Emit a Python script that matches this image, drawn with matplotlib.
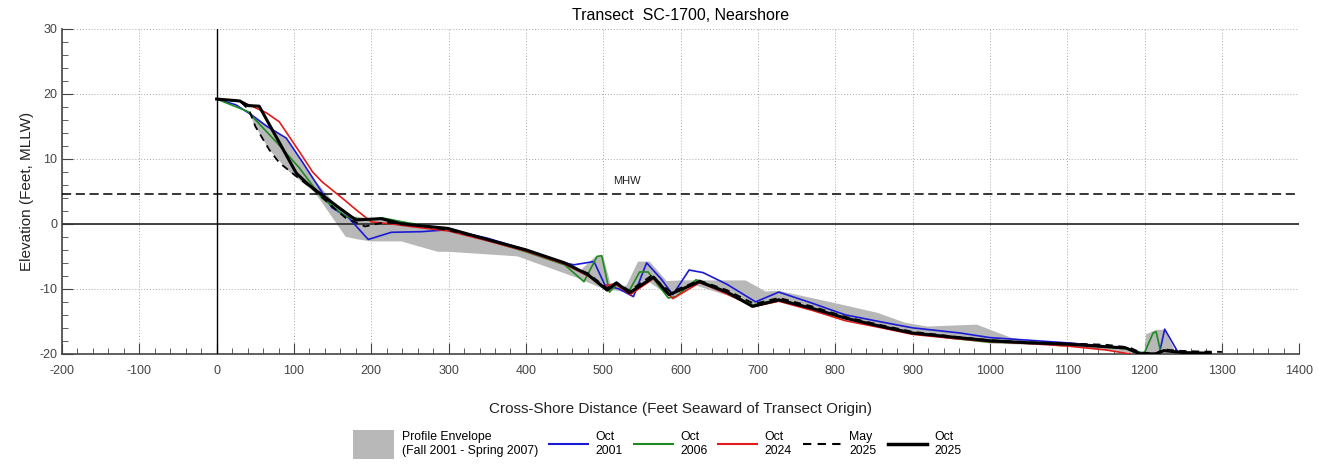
import matplotlib
matplotlib.use("Agg")
import matplotlib.pyplot as plt
from matplotlib.patches import Patch, Rectangle
from matplotlib.lines import Line2D
from matplotlib.legend_handler import HandlerPatch
from matplotlib.ticker import MultipleLocator

plt.rcParams['font.family'] = ['Liberation Sans', 'DejaVu Sans']
plt.rcParams['axes.unicode_minus'] = False

title = "Transect  SC-1700, Nearshore"
mhw = 4.6

# profile envelope (Fall 2001 - Spring 2007)
env_up_x = [0, 40, 75, 90, 100, 125, 150, 175, 200, 225, 250, 300, 350, 400, 450, 470, 490, 500,
            510, 530, 545, 560, 582, 600, 684, 710, 727, 800, 855, 890, 919, 983, 1027, 1091,
            1155, 1189, 1194, 1200, 1202, 1215, 1226, 1240, 1250]
env_up_y = [19.2, 17.5, 14.2, 13.2, 11.5, 7.0, 3.5, 1.2, 0.8, 0.8, 0.2, -0.8, -2.3, -4.0, -6.0, -7.2,
            -5.0, -5.0, -9.5, -9.5, -5.8, -5.8, -8.8, -8.7, -8.7, -10.4, -10.3, -12.2, -13.7, -15.2,
            -15.8, -15.5, -17.5, -18.9, -18.9, -19.7, -20.0, -20.0, -17.0, -16.3, -16.3, -19.7, -20.0]
env_lo_x = [0, 40, 50, 68, 94, 125, 132, 167, 183, 200, 239, 286, 300, 389, 466, 500, 530, 560,
            590, 620, 660, 695, 727, 800, 900, 1000, 1100, 1180, 1194, 1250]
env_lo_y = [19.2, 17.5, 15.0, 11.4, 8.0, 5.0, 4.0, -2.0, -2.4, -2.7, -2.7, -4.3, -4.3, -5.0, -8.3,
            -10.0, -10.5, -9.0, -11.5, -9.5, -11.0, -12.8, -12.0, -14.3, -16.9, -18.4, -18.8,
            -19.8, -20.0, -20.0]

oct2001_x = [0, 25, 42, 65, 90, 111, 130, 149, 171, 196, 226, 265, 300, 350, 400, 450, 462, 488,
             502, 520, 539, 556, 575, 590, 611, 629, 660, 697, 727, 770, 813, 860, 900, 962, 1000,
             1050, 1099, 1150, 1176, 1200, 1219, 1226, 1243, 1255]
oct2001_y = [19.2, 18.3, 17.0, 15.0, 13.2, 9.5, 6.0, 2.5, 0.9, -2.4, -1.3, -1.2, -0.9, -2.2, -4.0,
             -6.0, -6.3, -5.8, -9.4, -10.0, -11.2, -6.0, -8.5, -10.9, -7.1, -7.5, -9.3, -12.0,
             -10.5, -12.2, -14.0, -15.1, -16.0, -16.8, -17.5, -17.9, -18.3, -18.8, -19.1, -20.0,
             -20.0, -16.2, -19.7, -19.9]

oct2006_x = [0, 40, 77, 107, 136, 167, 193, 215, 240, 300, 350, 400, 450, 475, 492, 498, 508, 517,
             534, 547, 558, 584, 594, 620, 660, 693, 727, 770, 813, 860, 900, 950, 1000, 1050,
             1100, 1150, 1180, 1195, 1200, 1211, 1215, 1221]
oct2006_y = [19.2, 17.3, 12.6, 8.6, 4.0, 1.1, 0.6, 0.9, 0.3, -0.9, -2.5, -4.3, -6.3, -8.9, -5.0,
             -4.9, -10.5, -9.4, -10.2, -7.4, -7.4, -11.4, -11.2, -8.6, -10.4, -12.5, -11.6, -13.0,
             -14.5, -15.8, -16.8, -17.6, -18.2, -18.3, -18.5, -18.9, -19.3, -19.8, -19.8, -16.8,
             -16.6, -19.8]

oct2024_x = [0, 30, 42, 64, 81, 107, 124, 136, 162, 180, 200, 225, 250, 300, 350, 400, 450, 480,
             500, 515, 535, 565, 590, 625, 660, 695, 727, 770, 813, 860, 900, 950, 1000, 1050,
             1100, 1150, 1181]
oct2024_y = [19.2, 18.9, 18.3, 17.1, 15.7, 11.1, 8.0, 6.5, 4.0, 2.2, 0.3, 0.0, -0.4, -1.1, -2.6,
             -4.2, -6.2, -8.0, -9.6, -9.2, -10.9, -8.4, -11.5, -9.0, -10.8, -12.7, -11.9, -13.3,
             -14.9, -16.0, -17.0, -17.6, -18.1, -18.4, -18.8, -19.4, -20.0]

may2025_x = [0, 30, 42, 50, 68, 81, 100, 125, 154, 167, 192, 215, 250, 300, 350, 400, 450, 480,
             505, 517, 534, 562, 587, 624, 660, 695, 727, 770, 813, 860, 900, 950, 1000, 1050,
             1100, 1150, 1180, 1195, 1215, 1225, 1240, 1260, 1300]
may2025_y = [19.2, 18.9, 17.5, 15.0, 11.4, 9.4, 7.6, 5.3, 2.2, 0.9, -0.4, 0.2, 0.0, -1.0, -2.4,
             -4.0, -6.1, -7.6, -9.9, -9.0, -10.3, -8.0, -10.5, -8.7, -10.2, -12.3, -11.4, -12.7,
             -14.3, -15.6, -16.6, -17.3, -17.9, -18.2, -18.4, -18.6, -19.0, -19.8, -19.9, -19.3,
             -19.5, -19.6, -19.7]

oct2025_x = [0, 30, 40, 55, 103, 119, 158, 180, 213, 239, 299, 350, 400, 450, 480, 505, 517, 534,
             565, 585, 624, 660, 693, 727, 770, 813, 860, 900, 950, 1001, 1050, 1099, 1150, 1176,
             1194, 1215, 1225, 1250, 1285]
oct2025_y = [19.2, 18.9, 18.2, 18.1, 7.8, 6.0, 2.5, 0.6, 0.8, 0.0, -0.7, -2.4, -4.0, -6.0, -7.8,
             -10.2, -9.1, -10.6, -8.2, -10.9, -8.9, -10.5, -12.7, -11.7, -13.0, -14.5, -15.8,
             -16.8, -17.4, -18.0, -18.3, -18.5, -18.9, -19.1, -20.0, -20.0, -19.5, -19.8, -19.9]

legend_labels = ["Profile Envelope\n(Fall 2001 - Spring 2007)", "Oct\n2001", "Oct\n2006",
                 "Oct\n2024", "May\n2025", "Oct\n2025"]

fig = plt.figure(figsize=(13.19, 4.65), dpi=100)
ax = fig.add_axes([0.047, 0.239, 0.938, 0.699])

env_x = env_up_x + env_lo_x[::-1]
env_y = env_up_y + env_lo_y[::-1]
ax.fill(env_x, env_y, color="#b8b8b8", lw=0, zorder=2)

ax.axhline(0, color="#333333", lw=1.3, zorder=3)
ax.axvline(0, color="black", lw=1.0, zorder=3)
ax.axhline(mhw, color="black", lw=1.1, ls=(0, (6, 3)), zorder=3)
ax.text(530, mhw + 1.2, "MHW", fontsize=8, ha="center", va="bottom", color="#222222")

ax.plot(oct2001_x, oct2001_y, color="#1a1ad6", lw=1.2, zorder=4)
ax.plot(oct2006_x, oct2006_y, color="#1f8a1f", lw=1.2, zorder=4)
ax.plot(oct2024_x, oct2024_y, color="#e21a1a", lw=1.2, zorder=4)
ax.plot(may2025_x, may2025_y, color="black", lw=1.3, ls=(0, (4, 3)), zorder=5)
ax.plot(oct2025_x, oct2025_y, color="black", lw=2.2, zorder=6)

ax.set_xlim(-200, 1400)
ax.set_ylim(-20, 30)
ax.xaxis.set_major_locator(MultipleLocator(100))
ax.xaxis.set_minor_locator(MultipleLocator(20))
ax.yaxis.set_major_locator(MultipleLocator(10))
ax.yaxis.set_minor_locator(MultipleLocator(2))
ax.tick_params(which="both", direction="in", colors="#444444", labelsize=9)
ax.tick_params(which="major", length=8)
ax.tick_params(which="minor", length=4)
ax.tick_params(axis="x", pad=8)
ax.grid(True, which="major", color="#aaaaaa", ls=(0, (1, 2)), lw=0.7)
for s in ["top", "right"]:
    ax.spines[s].set_visible(False)
for s in ["left", "bottom"]:
    ax.spines[s].set_color("#444444")
    ax.spines[s].set_linewidth(1.2)

ax.set_title(title, fontsize=11.5, pad=6)
ax.set_xlabel("Cross-Shore Distance (Feet Seaward of Transect Origin)", fontsize=11,
              color="#222222", labelpad=18)
ax.set_ylabel("Elevation (Feet, MLLW)", fontsize=11, color="#222222", labelpad=4)


def square_patch(legend, orig_handle, xdescent, ydescent, width, height, fontsize):
    pw, ph = 30, 21
    return Rectangle((-xdescent + width - pw, -ydescent + height / 2 - ph / 2), pw, ph)


handles = [
    Patch(facecolor="#b8b8b8", edgecolor="none"),
    Line2D([], [], color="#1a1ad6", lw=1.5),
    Line2D([], [], color="#1f8a1f", lw=1.5),
    Line2D([], [], color="#e21a1a", lw=1.5),
    Line2D([], [], color="black", lw=1.5, ls=(0, (4, 3))),
    Line2D([], [], color="black", lw=2.5),
]
fig.legend(handles, legend_labels, loc="center", bbox_to_anchor=(0.499, 0.045), ncol=6,
           frameon=False, fontsize=8.8, handlelength=3.2, handletextpad=0.6, columnspacing=0.9,
           handler_map={Patch: HandlerPatch(patch_func=square_patch)})

fig.savefig("out.png", dpi=100)
